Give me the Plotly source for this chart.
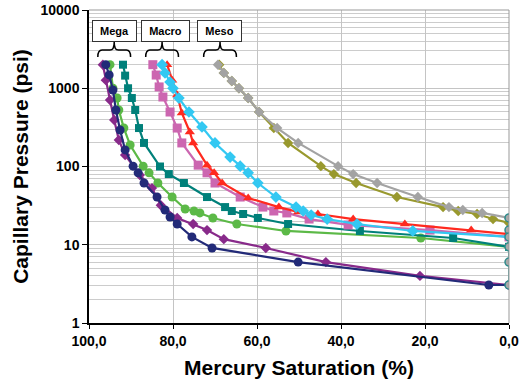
import plotly.graph_objects as go

# ---- data (Mercury saturation %, capillary pressure psi) ----
navy_x = [96.0, 95.2, 94.3, 93.6, 92.6, 91.4, 89.5, 88.3, 86.9, 83.8, 81.9, 80.7, 79.0, 75.5, 70.7, 50.2, 4.8, 0.0]
navy_y = [2000, 1480, 950, 527, 293, 163, 101, 83, 61.5, 40.7, 27.8, 22.6, 18.4, 12.6, 9.1, 6.0, 3.06, 3.06]

purple_x = [96.7, 96.0, 95.0, 94.0, 92.9, 91.4, 87.9, 85.0, 82.9, 79.0, 75.2, 71.9, 67.9, 57.9, 43.6, 21.2, 0.0]
purple_y = [2000, 1270, 708, 393, 218, 140, 78, 53, 32, 22, 18.4, 15.4, 11.8, 9.1, 6.0, 4.0, 3.06]

green_x = [95.0, 94.3, 93.3, 92.9, 91.7, 90.2, 87.1, 85.7, 83.6, 80.2, 77.1, 75.0, 73.6, 70.5, 64.8, 53.1, 21.0, 0.0]
green_y = [2000, 1000, 750, 527, 310, 188, 101, 83, 61.5, 40.7, 28.6, 27, 25.5, 22, 18.4, 15, 12.2, 9.4]

teal_x = [91.9, 91.4, 90.7, 89.8, 89.0, 88.1, 86.9, 83.1, 81.0, 77.4, 71.9, 67.6, 66.0, 63.3, 59.8, 52.6, 35.5, 13.3, 0.0]
teal_y = [2000, 1450, 1000, 750, 527, 310, 200, 100, 80, 61.5, 40.7, 30.3, 27, 24.7, 22, 18.4, 15, 12.2, 9.4]

pink_x = [84.8, 84.0, 83.3, 82.4, 80.7, 79.0, 77.9, 74.0, 71.9, 70.0, 64.0, 58.6, 56.0, 52.9, 47.6, 38.3, 18.8, 0.0]
pink_y = [2000, 1475, 1040, 773, 497, 310, 200, 104, 83, 61.5, 40.7, 30.3, 27, 25.5, 21.3, 17.9, 15.4, 12.6]

red_x = [81.4, 80.2, 79.0, 77.9, 76.0, 75.2, 71.9, 70.2, 68.3, 62.1, 54.8, 50.2, 45.5, 37.1, 24.8, 9.0, 0.0]
red_y = [2000, 1270, 820, 483, 276, 200, 104, 83, 61.5, 39.6, 30.3, 26.2, 24.7, 21.3, 18.4, 15.4, 13.7]

blue_x = [82.6, 81.9, 80.7, 80.0, 78.6, 76.2, 73.1, 70.0, 66.4, 64.0, 62.1, 59.8, 55.5, 50.7, 49.0, 47.1, 43.3, 36.2, 22.9, 0.0]
blue_y = [2000, 1570, 1200, 1000, 750, 497, 320, 200, 132, 101, 83, 61.5, 40.7, 30.3, 27, 24, 21.3, 18.4, 15, 12.6]

gray_x = [69.3, 67.9, 66.0, 64.3, 62.1, 59.5, 55.2, 50.2, 40.7, 37.1, 31.4, 21.7, 14.3, 11.0, 6.4, 0.0]
gray_y = [2000, 1570, 1240, 1000, 750, 497, 310, 200, 101, 80, 61.5, 40.7, 30.3, 27.8, 25.5, 22]

olive_x = [69.0, 67.9, 66.0, 64.3, 62.1, 59.5, 56.0, 52.6, 44.8, 41.7, 36.4, 26.7, 15.7, 12.1, 7.6, 3.8, 0.0]
olive_y = [2000, 1570, 1240, 1000, 750, 497, 310, 200, 101, 80, 61.5, 40.7, 30.3, 27, 24.7, 21.3, 19]

end_x = [0.0, 0.0, 0.0, 0.0, 0.0, 0.0]
end_y = [22, 15.4, 12.6, 9.4, 6.0, 3.06]

x_ticks = [100, 80, 60, 40, 20, 0]
x_tick_labels = ["100,0", "80,0", "60,0", "40,0", "20,0", "0,0"]
y_ticks = [1, 10, 100, 1000, 10000]
y_tick_labels = ["1", "10", "100", "1000", "10000"]

groups = ["Mega", "Macro", "Meso"]
group_label_at = [94.0, 81.7, 69.0]
group_brace_at = [94.0, 82.6, 68.8]

fig = go.Figure()

def add(x, y, color, symbol, size, name):
    fig.add_trace(go.Scatter(x=x, y=y, mode="lines+markers", name=name,
                             line=dict(color=color, width=2.2),
                             marker=dict(color=color, symbol=symbol, size=size)))

add(olive_x, olive_y, "#99992E", "diamond", 8, "olive")
add(gray_x, gray_y, "#A3A3A3", "diamond", 8, "gray")
add(green_x, green_y, "#5CB947", "circle", 9, "green")
add(teal_x, teal_y, "#00807A", "square", 8, "teal")
add(pink_x, pink_y, "#CC66B0", "square", 9, "pink")
add(red_x, red_y, "#FF2A1F", "triangle-up", 9, "red")
add(blue_x, blue_y, "#33C8F2", "diamond", 9, "blue")
add(purple_x, purple_y, "#882A8A", "diamond", 8, "purple")
add(navy_x, navy_y, "#222A78", "circle", 9, "navy")
fig.add_trace(go.Scatter(x=end_x, y=end_y, mode="lines+markers", name="end",
                         line=dict(color="#6AA6A6", width=2),
                         marker=dict(color="#A8A8A8", symbol="circle", size=8,
                                     line=dict(color="#2E8C8C", width=1.5))))

# group labels and braces (paper coordinates; x axis runs 100 -> 0)
for g, c, b in zip(groups, group_label_at, group_brace_at):
    pc = (100 - c) / 100.0
    fig.add_annotation(x=pc, y=0.933, xref="paper", yref="paper", text="<b>%s</b>" % g,
                       xanchor="center", yanchor="middle",
                       showarrow=False, font=dict(family="Arial", size=11, color="black"),
                       bordercolor="#333333", borderwidth=1, borderpad=4, bgcolor="white",
                       width=35 if g != "Macro" else 39)
    pb = (100 - b) / 100.0
    hw, d = 0.039, 0.010
    xl, xr = pb - hw, pb + hw
    yb, ym, yt = 0.850, 0.872, 0.898
    path = (f"M {xl:.4f},{yb} Q {xl:.4f},{ym} {xl+d:.4f},{ym} L {pb-d:.4f},{ym} "
            f"Q {pb:.4f},{ym} {pb:.4f},{yt} Q {pb:.4f},{ym} {pb+d:.4f},{ym} "
            f"L {xr-d:.4f},{ym} Q {xr:.4f},{ym} {xr:.4f},{yb}")
    fig.add_shape(type="path", path=path, xref="paper", yref="paper",
                  line=dict(color="black", width=1.5))

# gray frame top / right
fig.add_shape(type="line", xref="paper", yref="paper", x0=0, x1=1, y0=1, y1=1,
              line=dict(color="#999999", width=1))
fig.add_shape(type="line", xref="paper", yref="paper", x0=1, x1=1, y0=0, y1=1,
              line=dict(color="#999999", width=1))

fig.update_layout(
    width=520, height=391,
    margin=dict(l=89, r=11, t=10, b=68),
    paper_bgcolor="white", plot_bgcolor="white",
    showlegend=False,
    font=dict(family="Arial", color="black"),
    xaxis=dict(range=[100, 0], tickvals=x_ticks, ticktext=x_tick_labels, automargin=False,
               tickfont=dict(size=14, weight="bold"),
               showgrid=True, gridcolor="#C4C4C4", gridwidth=1,
               showline=True, linecolor="black", linewidth=1.5,
               ticks="outside", ticklen=4, tickcolor="black", zeroline=False,
               title=dict(text="<b>Mercury Saturation (%)</b>", font=dict(size=21), standoff=13)),
    yaxis=dict(type="log", range=[0, 4], tickvals=y_ticks, ticktext=y_tick_labels, automargin=False,
               tickfont=dict(size=14, weight="bold"),
               showgrid=True, gridcolor="#C4C4C4", gridwidth=1,
               minor=dict(showgrid=True, gridcolor="#CCCCCC", dtick="D1", ticks=""),
               showline=True, linecolor="black", linewidth=1.5,
               ticks="outside", ticklen=5, tickcolor="black", zeroline=False,
               title=dict(text="<b>Capillary Pressure (psi)</b>", font=dict(size=21), standoff=6)),
)

fig.write_html("out.html", config={"displayModeBar": False},
               post_script="document.body.style.margin='0';")
